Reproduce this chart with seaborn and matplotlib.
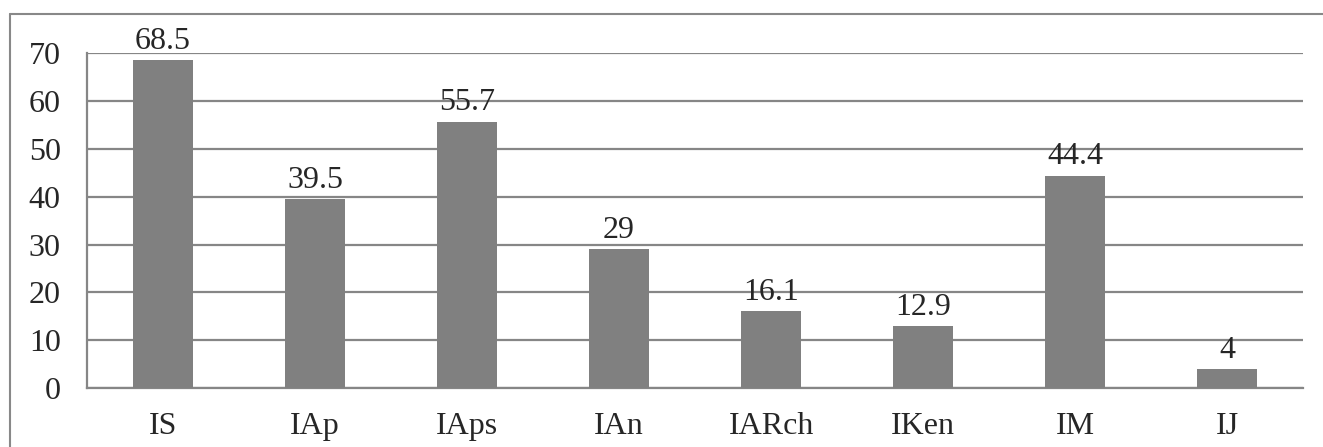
import matplotlib
matplotlib.use("Agg")
import matplotlib.pyplot as plt
import seaborn as sns
import pandas as pd

# Chart data
categories = ["IS", "IAp", "IAps", "IAn", "IARch", "IKen", "IM", "IJ"]
values = [68.5, 39.5, 55.7, 29, 16.1, 12.9, 44.4, 4]
value_labels = ["68.5", "39.5", "55.7", "29", "16.1", "12.9", "44.4", "4"]
y_ticks = [0, 10, 20, 30, 40, 50, 60, 70]

sns.set_style("white")
plt.rcParams["font.family"] = ["Liberation Serif", "DejaVu Serif"]

df = pd.DataFrame({"category": categories, "value": values})

fig = plt.figure(figsize=(13.23, 4.47), dpi=100)
ax = fig.add_axes([0.0658, 0.132, 0.9192, 0.749])

sns.barplot(data=df, x="category", y="value", color="#808080",
            saturation=1, width=0.395, linewidth=0, ax=ax, zorder=3)

ax.set_xlim(-0.5, len(categories) - 0.5)
ax.set_ylim(0, 70)
ax.set_yticks(y_ticks)
ax.yaxis.grid(True, color="#868686", linewidth=1.6, zorder=0)
ax.set_axisbelow(True)

for spine in ["top", "right"]:
    ax.spines[spine].set_visible(False)
for spine in ["left", "bottom"]:
    ax.spines[spine].set_color("#868686")
    ax.spines[spine].set_linewidth(1.6)

# category boundary ticks on the x axis
ax.set_xticks([i - 0.5 for i in range(len(categories) + 1)], minor=True)
ax.tick_params(axis="x", which="minor", length=7, width=1.6, color="#868686")
ax.tick_params(axis="x", which="major", length=0, pad=17, labelsize=23)
ax.tick_params(axis="y", length=7, width=1.6, color="#868686",
               direction="out", pad=12, labelsize=23)

ax.set_xlabel("")
ax.set_ylabel("")

for i, (v, lab) in enumerate(zip(values, value_labels)):
    ax.annotate(lab, (i, v), xytext=(0, 3), textcoords="offset points",
                ha="center", va="bottom", fontsize=23, clip_on=False)

# outer chart border (top and left edges visible)
fig.add_artist(plt.Line2D([10 / 1323, 1.0], [1 - 14 / 447, 1 - 14 / 447],
                          color="#888888", linewidth=1.5,
                          transform=fig.transFigure))
fig.add_artist(plt.Line2D([10 / 1323, 10 / 1323], [0, 1 - 14 / 447],
                          color="#888888", linewidth=1.5,
                          transform=fig.transFigure))

fig.savefig("out.png", dpi=100)
